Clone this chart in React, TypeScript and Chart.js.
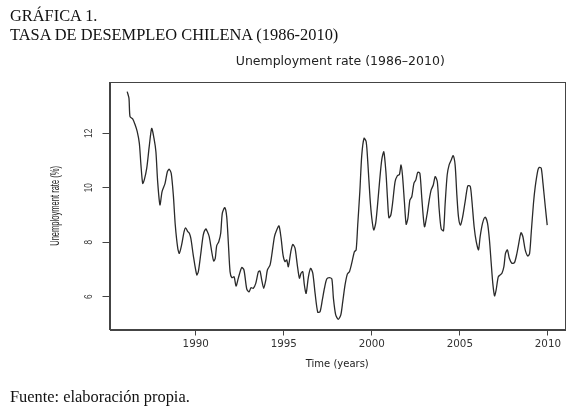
import React, { useEffect, useRef } from "react";
import { Chart, registerables } from "chart.js";

Chart.register(...registerables);

const chartTitle = "Unemployment rate (1986–2010)";
const xAxisTitle = "Time (years)";
const yAxisTitle = "Unemployment rate (%)";
const xTicks = [1990, 1995, 2000, 2005, 2010];
const yTicks = [6, 8, 10, 12];

const years = [
  1986.11, 1986.21, 1986.27, 1986.42, 1986.55, 1986.68, 1986.8, 1986.89, 1986.99, 1987.08,
  1987.22, 1987.36, 1987.5, 1987.63, 1987.74, 1987.84, 1987.97, 1988.09, 1988.26, 1988.39,
  1988.5, 1988.61, 1988.73, 1988.84, 1988.98, 1989.07, 1989.2, 1989.34, 1989.43, 1989.55,
  1989.64, 1989.73, 1989.86, 1990.06, 1990.15, 1990.28, 1990.43, 1990.57, 1990.66, 1990.77,
  1990.91, 1991.02, 1991.11, 1991.19, 1991.31, 1991.42, 1991.51, 1991.65, 1991.76, 1991.85,
  1991.95, 1992.05, 1992.18, 1992.29, 1992.42, 1992.61, 1992.74, 1992.9, 1993.03, 1993.14,
  1993.27, 1993.41, 1993.56, 1993.65, 1993.75, 1993.86, 1993.98, 1994.07, 1994.22, 1994.32,
  1994.47, 1994.6, 1994.73, 1994.85, 1994.96, 1995.07, 1995.17, 1995.26, 1995.4, 1995.51,
  1995.64, 1995.77, 1995.89, 1995.98, 1996.08, 1996.17, 1996.27, 1996.4, 1996.53, 1996.65,
  1996.78, 1996.93, 1997.06, 1997.19, 1997.31, 1997.44, 1997.59, 1997.73, 1997.82, 1997.95,
  1998.1, 1998.24, 1998.35, 1998.48, 1998.61, 1998.73, 1998.86, 1999.01, 1999.11, 1999.2,
  1999.32, 1999.43, 1999.56, 1999.68, 1999.77, 1999.9, 2000.0, 2000.11, 2000.22, 2000.33,
  2000.45, 2000.57, 2000.68, 2000.8, 2000.89, 2000.97, 2001.08, 2001.19, 2001.32, 2001.45,
  2001.57, 2001.66, 2001.74, 2001.85, 2001.95, 2002.05, 2002.16, 2002.27, 2002.39, 2002.5,
  2002.61, 2002.73, 2002.84, 2002.99, 2003.13, 2003.26, 2003.37, 2003.49, 2003.6, 2003.72,
  2003.82, 2003.94, 2004.07, 2004.16, 2004.28, 2004.39, 2004.51, 2004.62, 2004.73, 2004.83,
  2004.92, 2005.03, 2005.15, 2005.3, 2005.45, 2005.59, 2005.68, 2005.81, 2005.93, 2006.06,
  2006.15, 2006.29, 2006.44, 2006.57, 2006.68, 2006.78, 2006.87, 2006.97, 2007.06, 2007.18,
  2007.29, 2007.39, 2007.5, 2007.59, 2007.7, 2007.81, 2007.95, 2008.1, 2008.24, 2008.33,
  2008.47, 2008.58, 2008.71, 2008.86, 2008.96, 2009.05, 2009.18, 2009.28, 2009.43, 2009.51,
  2009.62, 2009.72, 2009.85, 2009.96,
];

const rates = [
  13.53, 13.29, 12.61, 12.53, 12.33, 12.06, 11.63, 10.84, 10.16, 10.29,
  10.72, 11.51, 12.18, 11.82, 11.32, 10.22, 9.37, 9.86, 10.16, 10.59,
  10.68, 10.53, 9.73, 8.63, 7.78, 7.59, 7.9, 8.39, 8.53, 8.39,
  8.33, 8.12, 7.53, 6.8, 6.92, 7.53, 8.27, 8.49, 8.39, 8.2,
  7.65, 7.31, 7.41, 7.87, 8.02, 8.33, 9.06, 9.27, 8.94, 8.02,
  6.92, 6.7, 6.73, 6.39, 6.68, 7.07, 6.98, 6.28, 6.18, 6.33,
  6.31, 6.49, 6.92, 6.94, 6.61, 6.31, 6.61, 6.98, 7.16, 7.53,
  8.2, 8.45, 8.6, 8.14, 7.53, 7.29, 7.35, 7.1, 7.65, 7.92,
  7.78, 7.16, 6.68, 6.86, 6.92, 6.43, 6.12, 6.73, 7.04, 6.86,
  6.12, 5.43, 5.45, 5.88, 6.31, 6.65, 6.7, 6.65, 5.94, 5.33,
  5.17, 5.33, 5.82, 6.43, 6.83, 6.92, 7.23, 7.65, 7.72, 8.63,
  9.86, 11.2, 11.82, 11.69, 10.96, 9.61, 8.88, 8.45, 8.7, 9.4,
  10.3, 11.05, 11.32, 10.59, 9.61, 8.9, 9.0, 9.49, 10.22, 10.44,
  10.49, 10.84, 10.47, 9.49, 8.66, 8.88, 9.55, 9.67, 10.16, 10.29,
  10.57, 10.53, 9.61, 8.57, 9.0, 9.55, 9.92, 10.1, 10.41, 10.22,
  9.25, 8.49, 8.42, 9.37, 10.47, 10.84, 11.02, 11.18, 10.84, 9.73,
  8.94, 8.63, 8.9, 9.49, 10.07, 10.05, 9.55, 8.57, 8.02, 7.72,
  8.2, 8.7, 8.92, 8.7, 8.08, 7.23, 6.49, 6.03, 6.25, 6.73,
  6.8, 6.86, 7.1, 7.59, 7.72, 7.41, 7.23, 7.25, 7.59, 7.9,
  8.35, 8.2, 7.72, 7.49, 7.59, 8.33, 9.43, 10.04, 10.65, 10.75,
  10.72, 10.16, 9.31, 8.63,
];

export default function App() {
  const ref = useRef<HTMLCanvasElement>(null);

  useEffect(() => {
    const canvas = ref.current;
    if (!canvas) return;

    const framePlugin = {
      id: "framePlugin",
      afterDraw(chart: any) {
        const { ctx, chartArea: a, scales } = chart;
        ctx.save();
        ctx.strokeStyle = "#444";
        ctx.lineWidth = 1;
        ctx.strokeRect(
          Math.round(a.left) + 0.5,
          Math.round(a.top) + 0.5,
          Math.round(a.right) - Math.round(a.left),
          Math.round(a.bottom) - Math.round(a.top)
        );
        const ys = scales.y;
        ctx.fillStyle = "#333";
        ctx.font = "11px 'Liberation Sans', Arial, sans-serif";
        ctx.textAlign = "center";
        ctx.textBaseline = "middle";
        ys.ticks.forEach((t: any) => {
          const y = ys.getPixelForValue(t.value);
          ctx.save();
          ctx.translate(a.left - 20.5, y);
          ctx.rotate(-Math.PI / 2);
          ctx.scale(0.75, 1);
          ctx.fillText(String(t.value), 0, 0);
          ctx.restore();
        });
        // y axis title (condensed)
        ctx.save();
        ctx.fillStyle = "#222";
        ctx.font = "12px 'Liberation Sans', Arial, sans-serif";
        ctx.translate(55.5, (a.top + a.bottom) / 2);
        ctx.rotate(-Math.PI / 2);
        ctx.scale(0.63, 1);
        ctx.fillText(yAxisTitle, 0, 0);
        ctx.restore();
        // chart title
        ctx.font = "12.5px 'DejaVu Sans', sans-serif";
        ctx.fillStyle = "#222";
        ctx.fillText(chartTitle, (a.left + a.right) / 2 + 3, 62);
        ctx.restore();
      },
    };

    const chart = new Chart(canvas, {
      type: "line",
      data: {
        datasets: [
          {
            data: years.map((x, i) => ({ x, y: rates[i] })),
            borderColor: "#2a2a2a",
            borderWidth: 1.3,
            pointRadius: 0,
            tension: 0.25,
            fill: false,
          },
        ],
      },
      options: {
        responsive: false,
        animation: false,
        layout: { padding: { top: 82.3, right: 10, left: 0, bottom: 0 } },
        plugins: {
          legend: { display: false },
          tooltip: { enabled: false },
          title: { display: false },
        },
        scales: {
          x: {
            type: "linear",
            min: 1985.105,
            max: 2010.97,
            afterBuildTicks: (s: any) => {
              s.ticks = xTicks.map((v) => ({ value: v }));
            },
            afterFit: (s: any) => {
              s.height = 82.5;
            },
            grid: {
              display: true,
              drawOnChartArea: false,
              drawTicks: true,
              tickLength: 6,
              color: "#444",
            },
            border: { display: true, color: "#444", width: 1 },
            ticks: {
              font: { family: "'DejaVu Sans', sans-serif", size: 10.3 },
              color: "#333",
              padding: 3,
              maxRotation: 0,
              autoSkip: false,
              callback: (v: any) => String(v),
            },
            title: {
              display: true,
              text: xAxisTitle,
              font: { family: "'DejaVu Sans', sans-serif", size: 10 },
              color: "#222",
              padding: { top: 0, bottom: 41.5 },
            },
          },
          y: {
            type: "linear",
            min: 4.795,
            max: 13.873,
            afterBuildTicks: (s: any) => {
              s.ticks = yTicks.map((v) => ({ value: v }));
            },
            afterFit: (s: any) => {
              s.width = 109.5;
            },
            grid: {
              display: true,
              drawOnChartArea: false,
              drawTicks: true,
              tickLength: 7,
              color: "#444",
            },
            border: { display: true, color: "#444", width: 1 },
            ticks: { display: false },
            title: { display: false },
          },
        },
      },
      plugins: [framePlugin],
    } as any);

    return () => chart.destroy();
  }, []);

  return (
    <div
      style={{
        position: "fixed",
        left: 0,
        top: 0,
        width: 575,
        height: 412,
        background: "#fff",
        overflow: "hidden",
      }}
    >
      <canvas
        ref={ref}
        width={575}
        height={412}
        style={{ position: "absolute", left: 0, top: 0, width: 575, height: 412 }}
      />
      <div
        style={{
          position: "absolute",
          left: 10,
          top: 6,
          font: "16.4px/19px 'Liberation Serif', 'Times New Roman', serif",
          color: "#111",
          whiteSpace: "nowrap",
        }}
      >
        GRÁFICA 1.
        <br />
        TASA DE DESEMPLEO CHILENA (1986-2010)
      </div>
      <div
        style={{
          position: "absolute",
          left: 10,
          top: 387,
          font: "16.4px/19px 'Liberation Serif', 'Times New Roman', serif",
          color: "#111",
          whiteSpace: "nowrap",
        }}
      >
        Fuente: elaboración propia.
      </div>
    </div>
  );
}
